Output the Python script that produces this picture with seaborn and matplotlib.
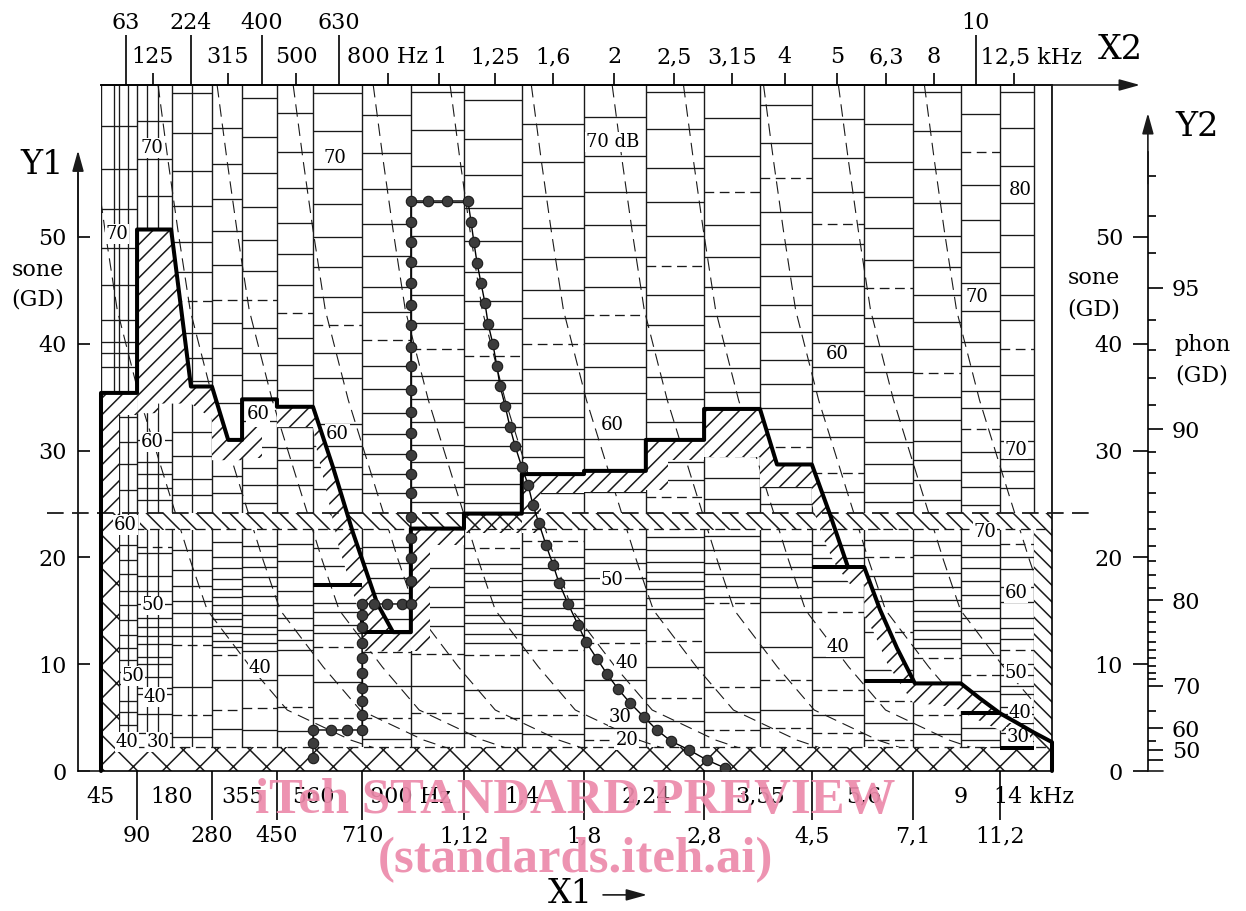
import matplotlib
matplotlib.use("Agg")
import matplotlib.pyplot as plt
from matplotlib.patches import Polygon, Rectangle
import numpy as np
import seaborn as sns

# ---------------------------------------------------------------------------
# Values
# x = critical-band rate (Bark), y = loudness (sone)
# ---------------------------------------------------------------------------
BAND_EDGES = [0.0, 0.91, 1.79, 2.80, 3.56, 4.44, 5.35, 6.59, 7.82, 9.16, 10.62,
              12.19, 13.75, 15.22, 16.63, 17.94, 19.26, 20.49, 21.70, 22.69, 23.55, 24.0]
SUB_EDGES = [0.33, 0.46, 0.69, 1.16, 1.44, 2.30]

X1_UPPER = ["45", "180", "355", "560", "900 Hz", "1,4", "2,24", "3,55", "5,6", "9", "14 kHz"]
X1_LOWER = ["90", "280", "450", "710", "1,12", "1,8", "2,8", "4,5", "7,1", "11,2"]

X2_LONG_Z = [0.63, 2.27, 4.06, 6.00, 22.08]
X2_LONG = ["63", "224", "400", "630", "10"]
X2_SHORT_Z = [1.31, 3.20, 4.92, 7.24, 8.53, 9.94, 11.41, 12.95, 14.46, 15.92,
              17.26, 18.57, 19.81, 21.02, 23.04]
X2_SHORT = ["125", "315", "500", "800 Hz", "1", "1,25", "1,6", "2", "2,5", "3,15",
            "4", "5", "6,3", "8", "     12,5 kHz"]

SONE_TICKS = [0, 10, 20, 30, 40, 50]
PHON_MAJOR = [40, 50, 60, 70, 80, 90, 95]
PHON_MAJOR_LABELS = ["", "50", "60", "70", "80", "90", "95"]
PHON_MINOR = [55, 65, 71, 72, 73, 74, 75, 76, 77, 78, 79, 81, 82, 83, 84, 85, 86,
              87, 88, 89, 91, 92, 93, 94, 96, 97, 98]

# level lines inside each band column (sone)
COL_SOLID = [
    [60.4, 56.4, 52.6, 49.0, 45.5, 42.2, 40.2, 39.1, 37.8, 33.1, 30.8, 28.7, 26.3, 21.2, 19.8,
     18.4, 16.9, 15.5, 14.1, 12.7, 11.5, 10.4, 9.3, 8.1, 6.6, 5.5, 4.3, 3.4],
    [60.9, 57.3, 53.8, 47.0, 43.5, 40.0, 36.5, 31.0, 28.9, 27.8, 26.5, 25.4, 20.4, 18.3, 16.9,
     15.6, 14.3, 13.5, 12.6, 11.9, 10.7, 10.0, 8.8, 7.8, 7.2, 5.3, 3.6],
    [63.5, 59.7, 56.2, 52.9, 49.5, 46.7, 41.0, 38.7, 36.5, 34.8, 31.7, 29.5, 27.3, 25.8, 20.7,
     18.8, 17.3, 15.9, 14.8, 13.5, 12.6, 7.9, 3.2],
    [60.2, 56.8, 53.6, 50.6, 47.4, 41.9, 39.6, 37.1, 34.5, 29.4, 27.6, 26.0, 21.4, 20.0, 19.0,
     18.0, 17.0, 16.3, 15.5, 14.8, 14.2, 13.6, 12.9, 12.2, 11.6, 8.5, 3.9],
    [63.0, 59.4, 56.0, 52.8, 49.7, 46.8, 41.5, 39.1, 36.6, 32.8, 30.3, 28.4, 26.8, 25.1, 21.1,
     20.0, 19.1, 18.2, 17.3, 16.4, 15.5, 14.6, 13.5, 12.8, 12.0, 11.2, 8.5, 3.8],
    [61.6, 58.0, 54.6, 51.3, 48.4, 45.5, 40.5, 38.0, 35.7, 32.2, 30.2, 29.1, 26.8, 21.3, 19.7,
     18.2, 16.9, 15.5, 14.3, 13.2, 12.3, 11.3, 9.0, 3.7],
    [63.5, 59.9, 56.4, 53.1, 50.0, 47.2, 44.4, 39.1, 36.8, 32.5, 30.4, 28.5, 26.4, 20.9, 19.2,
     15.7, 14.9, 13.7, 12.9, 8.3],
    [61.4, 57.9, 54.5, 51.2, 48.2, 45.3, 43.0, 37.9, 35.8, 33.5, 31.6, 29.7, 27.8, 26.0, 21.0,
     19.5, 18.1, 16.7, 14.2, 8.0, 3.0],
    [63.6, 60.0, 56.6, 53.3, 50.1, 47.3, 44.6, 41.9, 37.0, 34.8, 32.7, 30.5, 28.9, 26.6, 25.2,
     19.0, 17.2, 15.4, 13.6, 8.0, 3.6],
    [62.8, 59.2, 55.8, 52.7, 49.6, 46.7, 44.0, 41.4, 36.6, 34.5, 32.2, 30.4, 28.4, 26.9, 25.1,
     19.4, 18.5, 17.8, 16.5, 15.8, 14.6, 13.9, 12.8, 12.0, 7.6, 3.6],
    [60.6, 57.0, 53.8, 50.8, 47.9, 45.0, 42.4, 37.6, 35.4, 33.1, 31.1, 29.4, 26.0, 20.0, 19.0,
     17.9, 16.9, 16.1, 15.3, 14.5, 13.7, 12.7, 7.6, 3.5],
    [61.2, 57.6, 54.2, 51.1, 48.1, 45.3, 40.1, 37.8, 35.4, 31.1, 26.1, 20.8, 19.5, 18.1, 16.9,
     15.5, 14.3, 13.2, 8.5, 4.0],
    [63.6, 60.1, 56.5, 53.3, 50.1, 44.6, 41.8, 39.4, 36.9, 34.8, 32.7, 28.9, 27.2, 21.9, 20.7,
     19.6, 18.6, 17.8, 17.0, 16.2, 15.2, 14.3, 9.7, 4.7],
    [61.1, 57.6, 51.1, 48.1, 45.3, 42.6, 40.1, 37.7, 35.5, 31.5, 27.4, 25.5, 22.0, 20.7, 19.5,
     18.4, 17.3, 16.3, 11.1, 5.5],
    [62.4, 58.8, 52.3, 49.3, 46.3, 43.6, 41.1, 38.5, 36.2, 34.0, 32.0, 26.6, 25.0, 21.5, 20.3,
     19.1, 18.2, 17.2, 16.2, 14.9, 11.6, 5.7],
    [61.0, 57.4, 54.2, 49.3, 45.4, 42.7, 40.1, 37.8, 35.6, 33.3, 31.3, 26.1, 21.2, 19.9, 17.8,
     16.3, 10.7, 5.2],
    [60.6, 57.0, 53.7, 50.8, 47.8, 42.4, 39.8, 37.4, 35.2, 32.9, 30.8, 28.7, 27.0, 25.2, 21.6,
     18.3, 17.0, 15.9, 9.5, 4.5],
    [63.6, 59.9, 56.4, 53.2, 50.1, 47.2, 44.6, 42.0, 39.5, 35.0, 32.9, 30.9, 29.1, 27.2, 25.4,
     21.5, 20.2, 18.5, 17.2, 16.0, 15.0, 14.0, 13.2, 12.4, 11.5, 3.5],
    [61.5, 54.9, 51.6, 48.6, 45.7, 43.1, 40.2, 37.9, 35.6, 34.0, 29.9, 28.0, 26.6, 24.9, 21.2,
     20.0, 19.0, 17.8, 16.5, 15.3, 14.3, 13.2, 12.0, 10.9, 7.5, 4.0, 2.9],
    [63.6, 60.2, 56.6, 53.2, 50.2, 47.2, 44.6, 42.2, 37.1, 34.8, 32.8, 30.9, 29.2, 28.1, 26.5,
     20.0, 18.9, 15.8, 14.3, 13.4, 12.4, 10.0, 9.0, 8.0, 7.2, 6.0, 5.3, 4.5, 3.6],
    [],
]
COL_DASHED = [
    [], [21.0], [44.0, 11.8, 5.2], [44.1, 10.9, 5.7], [44.1, 5.9], [42.9, 6.0],
    [41.8, 11.6, 5.0], [40.4, 11.1, 5.0], [39.5, 11.0, 5.4], [38.9, 20.9, 10.9, 5.0],
    [40.0, 21.5, 11.3, 5.2], [42.7, 12.0, 2.9], [47.3, 25.7, 12.2, 6.8],
    [54.2, 29.5, 15.7, 7.9, 3.8], [55.5, 30.3, 8.5, 4.0], [51.2, 27.9, 14.9, 7.6, 3.6],
    [45.2, 20.0, 13.0, 6.6, 2.9], [37.3, 10.6, 5.2], [58.0, 32.0, 9.0],
    [39.5, 21.3, 17.2, 11.3], [],
]

# family of dashed slope curves: start (Bark at top edge) and common shape
CURVE_START_Z = [-0.40, 1.44, 2.93, 4.85, 6.87, 8.81, 10.86, 12.90, 14.70, 16.72, 18.61, 20.78]
CURVE_DZ = [0.0, 0.25, 0.50, 0.81, 1.39, 2.12, 2.65, 3.08, 4.17, 5.10, 6.70, 8.20, 9.10]
CURVE_S = [64.23, 57.2, 50.66, 43.16, 34.74, 26.03, 19.76, 15.07, 9.74, 5.71, 2.90, 1.03, 0.28]

# loudness pattern (thick line)
ENV_Z = [0.0, 0.0, 0.91, 0.91, 1.77, 2.27, 2.80, 3.21, 3.56, 3.56, 4.44, 4.44, 5.35, 5.85,
         6.36, 6.97, 7.37, 7.82, 7.82, 9.16, 9.16, 10.62, 10.62, 12.19, 12.19, 13.75, 13.75,
         15.22, 15.22, 16.63, 17.06, 17.94, 18.40, 18.85, 19.26, 19.66, 20.09, 20.54, 21.70,
         22.18, 22.69, 23.12, 23.52, 24.0, 24.0]
ENV_S = [0.0, 35.4, 35.4, 50.7, 50.7, 36.0, 36.0, 31.0, 31.0, 34.8, 34.8, 34.1, 34.1, 28.5,
         22.3, 15.7, 13.0, 13.0, 22.7, 22.7, 24.1, 24.1, 27.8, 27.8, 28.1, 28.1, 31.0, 31.0,
         33.9, 33.9, 28.7, 28.7, 24.0, 19.1, 19.1, 15.1, 11.5, 8.2, 8.2, 6.8, 5.4, 4.5, 3.65,
         2.7, 0.0]
STEP_Z0 = [5.35, 6.59, 17.94, 19.26, 21.70, 22.69]
STEP_Z1 = [6.59, 7.82, 18.85, 20.49, 22.69, 23.55]
STEP_S = [17.4, 13.0, 19.1, 8.4, 5.4, 2.15]

# second pattern (circles)
DOT_Z = [5.35, 5.35, 5.35, 5.80, 6.21, 6.59, 6.59, 6.59, 6.59, 6.59, 6.59, 6.59, 6.59, 6.59,
         6.59, 6.89, 7.22, 7.60, 7.82, 7.82, 7.82, 7.82, 7.82, 7.82, 7.82, 7.82, 7.82, 7.82,
         7.82, 7.82, 7.82, 7.82, 7.82, 7.82, 7.82, 7.82, 7.82, 7.82, 8.25, 8.73, 9.26, 9.34,
         9.41, 9.49, 9.59, 9.69, 9.77, 9.89, 9.99, 10.07, 10.20, 10.32, 10.45, 10.62, 10.78,
         10.90, 11.05, 11.23, 11.41, 11.56, 11.79, 12.04, 12.24, 12.52, 12.77, 13.05, 13.35,
         13.70, 14.03, 14.38, 14.84, 15.29, 15.75]
DOT_S = [1.22, 2.62, 3.84, 3.84, 3.84, 3.84, 5.24, 6.55, 7.77, 9.18, 10.58, 11.99, 13.48,
         14.61, 15.64, 15.64, 15.64, 15.64, 15.64, 17.80, 19.94, 21.82, 23.78, 26.03, 27.81,
         29.59, 31.65, 33.61, 35.67, 37.92, 39.70, 41.76, 43.63, 45.69, 47.66, 49.53, 51.40,
         53.37, 53.37, 53.37, 53.37, 51.40, 49.53, 47.57, 45.69, 43.82, 41.85, 39.98, 37.92,
         36.05, 34.18, 32.21, 30.43, 28.46, 26.78, 24.91, 23.22, 21.16, 19.29, 17.60, 15.64,
         13.67, 12.08, 10.49, 9.08, 7.68, 6.37, 5.06, 3.84, 2.81, 1.97, 1.03, 0.28]

# level numbers written inside the grid
LEVEL_TEXT = ["70", "70", "70", "70 dB", "80", "70", "60", "60", "60", "60", "60", "70", "60",
              "70", "50", "60", "50", "40", "40", "40", "50", "50", "40", "30", "40", "40",
              "30", "20", "30"]
LEVEL_Z = [1.29, 0.40, 5.91, 12.92, 23.19, 22.10, 1.29, 3.96, 5.96, 12.90, 18.57, 23.09, 0.61,
           22.31, 12.90, 23.09, 1.31, 4.01, 13.27, 18.60, 0.81, 23.09, 1.36, 13.10, 23.19,
           0.66, 1.44, 13.27, 23.14]
LEVEL_S = [58.3, 50.3, 57.4, 58.9, 54.4, 44.4, 30.8, 33.4, 31.6, 32.4, 39.0, 30.1, 23.0, 22.4,
           17.9, 16.7, 15.5, 9.6, 10.1, 11.6, 8.9, 9.2, 6.9, 5.1, 5.4, 2.7, 2.7, 2.9, 3.2]

# hatched areas (Bark, sone)
HATCH_SLASH = [
    [(0, 35.4), (0.91, 35.4), (0.91, 33.3), (0.46, 33.3), (0.46, 24.2), (0, 24.2)],
    [(0.91, 50.7), (1.77, 50.7), (2.27, 36.0), (2.27, 34.4), (1.44, 34.4), (1.44, 33.5), (0.91, 33.5)],
    [(2.27, 36.0), (2.80, 36.0), (3.21, 31.0), (3.56, 31.0), (3.56, 29.1), (2.80, 29.1),
     (2.80, 33.0), (2.27, 34.4)],
    [(3.56, 32.2), (4.06, 32.2), (4.06, 29.3), (3.56, 29.3)],
    [(4.44, 34.1), (5.35, 34.1), (5.85, 28.5), (6.36, 22.3), (6.97, 15.7), (7.37, 13.0),
     (7.82, 13.0), (7.82, 11.2), (6.59, 11.2), (6.59, 14.0), (6.30, 17.4), (6.0, 21.0),
     (5.7, 26.0), (5.45, 30.0), (5.35, 32.2), (4.44, 32.2)],
    [(7.82, 22.7), (9.16, 22.7), (9.16, 21.2), (8.3, 21.2), (8.3, 11.2), (7.82, 11.2)],
    [(10.62, 27.8), (12.19, 27.8), (12.19, 26.0), (11.1, 26.0), (11.1, 22.3), (10.62, 22.3)],
    [(12.19, 28.1), (13.75, 28.1), (13.75, 26.1), (12.19, 26.1)],
    [(13.75, 31.0), (15.22, 31.0), (15.22, 29.1), (14.3, 29.1), (14.3, 26.3), (13.75, 26.3)],
    [(15.22, 33.9), (16.63, 33.9), (17.06, 28.7), (17.94, 28.7), (17.94, 26.6), (16.63, 26.6),
     (16.63, 29.4), (15.22, 29.4)],
    [(17.94, 28.7), (18.40, 24.0), (18.85, 19.1), (19.26, 19.1), (19.66, 15.1), (20.09, 11.5),
     (20.54, 8.2), (21.70, 8.2), (22.18, 6.8), (22.69, 5.4), (23.12, 4.5), (23.52, 3.65),
     (23.52, 2.6), (22.69, 3.8), (22.0, 5.0), (21.5, 6.0), (20.49, 6.4), (20.2, 8.0),
     (19.85, 10.0), (19.5, 13.0), (19.26, 14.5), (19.26, 17.5), (18.9, 17.5), (18.5, 19.5),
     (18.2, 22.0), (17.94, 25.0)],
]
HATCH_CROSS_OVER = [(9.16, 24.1), (10.62, 24.1), (10.62, 22.3), (9.16, 22.3)]

# ---------------------------------------------------------------------------
sns.set_theme(style="ticks")
plt.rcParams["font.family"] = ["DejaVu Serif"]
plt.rcParams["lines.scale_dashes"] = False
plt.rcParams["hatch.linewidth"] = 1.1
for key in ["axes.edgecolor", "xtick.color", "ytick.color", "text.color", "axes.labelcolor"]:
    plt.rcParams[key] = "black"

TOP = 64.23
LW_THIN = 0.95
FS = 16

fig = plt.figure(figsize=(12.46, 9.11), dpi=100)
ax = fig.add_axes([101 / 1246, 140 / 911, 951 / 1246, 686 / 911])
ax.set_xlim(0, 24)
ax.set_ylim(0, TOP)
ax.set_facecolor("white")

# band columns
ax.vlines(BAND_EDGES, 0, TOP, colors="k", lw=1.0, zorder=1)
ax.vlines(SUB_EDGES, 0, TOP, colors="k", lw=LW_THIN, zorder=1)
for i, (levels, dashed) in enumerate(zip(COL_SOLID, COL_DASHED)):
    left, right = BAND_EDGES[i], BAND_EDGES[i + 1]
    if levels:
        ax.hlines(levels, left, right, colors="k", lw=LW_THIN, zorder=1)
    if dashed:
        ax.hlines(dashed, left, right, colors="k", lw=LW_THIN, linestyles=(0, (7, 4)), zorder=1)

# dashed slope curves
for z0 in CURVE_START_Z:
    ax.plot(np.add(CURVE_DZ, z0), CURVE_S, color="k", lw=0.8, ls=(0, (9, 5)), zorder=1.5)

# hatched areas (white underneath)
ax.add_patch(Rectangle((0.98, 22.6), 23.55 - 0.98, 24.2 - 22.6, fc="white", ec="k",
                       hatch="\\\\", lw=0, zorder=2))
ax.add_patch(Rectangle((23.55, 2.6), 0.45, 24.2 - 2.6, fc="white", ec="k",
                       hatch="\\\\", lw=0, zorder=2))
for poly in HATCH_SLASH:
    ax.add_patch(Polygon(poly, closed=True, fc="white", ec="k", hatch="//", lw=0, zorder=2.2))
ax.add_patch(Polygon(HATCH_CROSS_OVER, closed=True, fc="none", ec="k", hatch="//", lw=0,
                     zorder=2.3))
ax.add_patch(Rectangle((0, 0), 24, 2.25, fc="white", ec="k", hatch="x", lw=0, zorder=2.4))
ax.add_patch(Rectangle((0, 0), 0.46, 24.2, fc="white", ec="k", hatch="x", lw=0, zorder=2.4))
ax.add_patch(Rectangle((23.55, 0), 0.45, 3.0, fc="white", ec="k", hatch="x", lw=0, zorder=2.4))
ax.hlines([2.25, 22.7], 0.46, 24, colors="k", lw=LW_THIN, linestyles=(0, (7, 4)), zorder=2.5)

# long dashed switch line
ax.plot([-1.36, 24.96], [24.2, 24.2], color="k", lw=1.3, ls=(0, (12, 6)), clip_on=False,
        zorder=5)

# level numbers
for t, z, s in zip(LEVEL_TEXT, LEVEL_Z, LEVEL_S):
    ax.text(z, s, t, ha="center", va="center", fontsize=13, zorder=3,
            bbox=dict(fc="white", ec="none", pad=0.6))

# loudness patterns
sns.lineplot(x=ENV_Z, y=ENV_S, sort=False, estimator=None, color="black", lw=2.9, ax=ax,
             zorder=6, clip_on=False)
ax.hlines(STEP_S, STEP_Z0, STEP_Z1, colors="black", lw=2.9, zorder=6)
ax.vlines([6.59], [13.0], [15.64], colors="black", lw=2.9, zorder=6)
sns.lineplot(x=DOT_Z, y=DOT_S, sort=False, estimator=None, color="black", lw=1.0, marker="o",
             markersize=7.5, markerfacecolor="#3c3c3c", markeredgecolor="k",
             markeredgewidth=0.8, ax=ax, zorder=7)

# ---------------------------------------------------------------------------
# axes: X1 (bottom), Y1 (left)
ax.set_xticks(BAND_EDGES[1:20:2], X1_LOWER)
ax.set_xticks(BAND_EDGES[0:21:2], X1_UPPER, minor=True)
ax.tick_params(axis="x", which="major", direction="out", length=35, width=1.2, pad=4,
               labelsize=FS, bottom=True)
ax.tick_params(axis="x", which="minor", length=0, pad=10.5, labelsize=FS, bottom=True)
ax.set_yticks(SONE_TICKS)
ax.tick_params(axis="y", which="major", direction="in", length=8.6, width=1.2, pad=8,
               labelsize=FS, left=True)
ax.spines["left"].set_position(("outward", 16.6))
ax.spines["left"].set_bounds(0, 56)
for side in ["left", "bottom", "top", "right"]:
    ax.spines[side].set_linewidth(1.2)
ax.set_xlabel("")
ax.set_ylabel("")

y1_x = -23 / 39.625
ax.plot([y1_x, 0], [0, 0], color="k", lw=1.2, clip_on=False)
arrow = dict(arrowstyle="-|>,head_length=0.9,head_width=0.25", color="k", lw=1.2,
             mutation_scale=14, shrinkA=0, shrinkB=0)
ax.annotate("", xy=(y1_x, 58.1), xytext=(y1_x, 50), arrowprops=arrow, annotation_clip=False)
ax.text(-1.49, 56.7, "Y1", ha="center", va="center", fontsize=24)
ax.text(-1.59, 46.9, "sone", ha="center", va="center", fontsize=FS)
ax.text(-1.59, 44.1, "(GD)", ha="center", va="center", fontsize=FS)

# X2 (top)
sec_top = ax.secondary_xaxis("top")
sec_top.set_ticks(X2_LONG_Z, X2_LONG)
sec_top.set_ticks(X2_SHORT_Z, X2_SHORT, minor=True)
sec_top.tick_params(which="major", direction="out", length=36, width=1.2, pad=0.5,
                    labelsize=FS)
sec_top.tick_params(which="minor", direction="out", length=8.6, width=1.2, pad=3.6,
                    labelsize=FS)
sec_top.spines["top"].set_linewidth(1.2)
ax.annotate("", xy=(26.22, TOP), xytext=(23.0, TOP), arrowprops=arrow, annotation_clip=False)
ax.text(25.72, 67.5, "X2", ha="center", va="center", fontsize=24)

# X1 label
ax.text(11.84, -11.55, "X1", ha="center", va="center", fontsize=24)
ax.annotate("", xy=(13.78, -11.6), xytext=(12.67, -11.6), arrowprops=arrow,
            annotation_clip=False)


# Y2 (right): sone on the left of the line, phon on the right
def sone_to_phon(s):
    s = np.clip(np.asarray(s, dtype=float), 1e-3, None)
    return 40 + 10 * np.log2(s)


def phon_to_sone(p):
    return 2.0 ** ((np.asarray(p, dtype=float) - 40) / 10)


y2_z = 26.42
sec_sone = ax.secondary_yaxis(y2_z / 24)
sec_sone.set_alignment("left")
sec_sone.set_ticks(SONE_TICKS)
sec_sone.tick_params(direction="out", length=10.8, width=1.2, pad=7, labelsize=FS)
sec_sone.spines["left"].set_bounds(0, 58)
sec_sone.spines["left"].set_linewidth(1.2)

sec_phon = ax.secondary_yaxis(y2_z / 24, functions=(sone_to_phon, phon_to_sone))
sec_phon.set_ticks(PHON_MAJOR, PHON_MAJOR_LABELS)
sec_phon.set_ticks(PHON_MINOR, minor=True)
sec_phon.tick_params(which="major", direction="out", length=10.8, width=1.2, pad=6.5,
                     labelsize=FS)
sec_phon.tick_params(which="minor", direction="out", length=6, width=1.2)
sec_phon.spines["right"].set_visible(False)

ax.plot([y2_z, y2_z + 0.38], [0, 0], color="k", lw=1.2, clip_on=False)
ax.annotate("", xy=(y2_z, 61.6), xytext=(y2_z, 55), arrowprops=arrow, annotation_clip=False)
ax.text(27.66, 60.3, "Y2", ha="center", va="center", fontsize=24)
ax.text(25.06, 46.2, "sone", ha="center", va="center", fontsize=FS)
ax.text(25.06, 43.2, "(GD)", ha="center", va="center", fontsize=FS)
ax.text(27.79, 39.9, "phon", ha="center", va="center", fontsize=FS)
ax.text(27.79, 37.0, "(GD)", ha="center", va="center", fontsize=FS)

# watermark
wm = dict(ha="center", va="baseline", fontsize=36.5, fontweight="bold",
          family="Liberation Serif", color="#ec8aab", alpha=0.92, zorder=20)
fig.text(575 / 1246, (911 - 813) / 911, "iTeh STANDARD PREVIEW", **wm)
fig.text(575 / 1246, (911 - 872) / 911, "(standards.iteh.ai)", **wm)

fig.savefig("out.png", dpi=100)
plt.close(fig)
